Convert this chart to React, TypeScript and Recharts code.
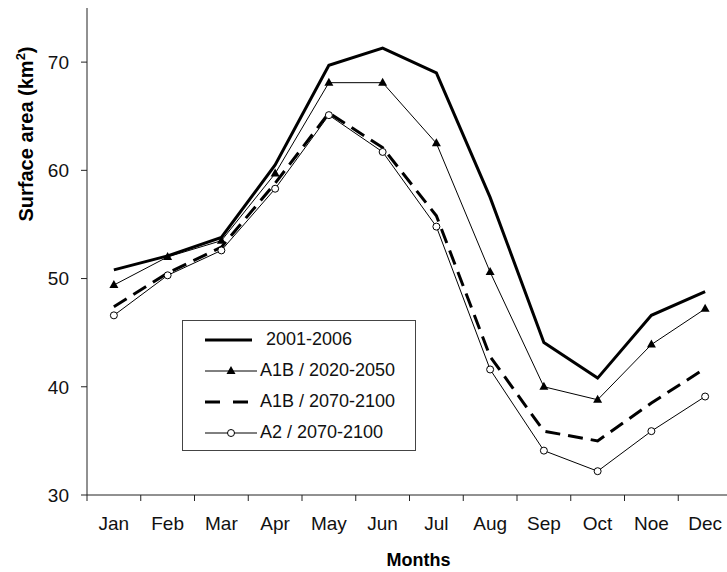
import { LineChart, Line, XAxis, YAxis, Legend } from 'recharts'

const months = ['Jan', 'Feb', 'Mar', 'Apr', 'May', 'Jun', 'Jul', 'Aug', 'Sep', 'Oct', 'Noe', 'Dec']
const obs2001 = [50.8, 52.1, 53.8, 60.5, 69.7, 71.3, 69.0, 57.5, 44.1, 40.8, 46.6, 48.8]
const a1b2020 = [49.4, 52.0, 53.5, 59.7, 68.1, 68.1, 62.5, 50.6, 40.0, 38.8, 43.9, 47.2]
const a1b2070 = [47.4, 50.5, 52.9, 58.8, 65.3, 62.1, 55.8, 42.8, 35.9, 35.0, 38.5, 41.7]
const a2_2070 = [46.6, 50.3, 52.6, 58.3, 65.1, 61.7, 54.8, 41.6, 34.1, 32.2, 35.9, 39.1]
const yTicks = [30, 40, 50, 60, 70]

const data = months.map((m, i) => ({
  m,
  obs: obs2001[i],
  a1b20: a1b2020[i],
  a1b70: a1b2070[i],
  a2: a2_2070[i],
}))

const FONT = '"Liberation Sans", Arial, sans-serif'
const W = 740
const H = 572
const MARGIN = { top: 8, right: 8, left: 0, bottom: 0 }
const Y_W = 87
const BAND = (W - MARGIN.left - MARGIN.right - Y_W) / months.length

const Triangle = ({ cx, cy, index }: any) => (
  <polygon key={index} points={`${cx},${cy - 5} ${cx - 4.5},${cy + 3} ${cx + 4.5},${cy + 3}`} fill="#000" />
)

const MonthTick = ({ x, y, payload }: any) => (
  <g>
    <line x1={x - BAND / 2} x2={x - BAND / 2} y1={y} y2={y + 6} stroke="#222" />
    <text x={x} y={y + 35} textAnchor="middle" fontSize={19} fill="#111" fontFamily={FONT}>
      {payload.value}
    </text>
  </g>
)

const YTitle = ({ viewBox }: any) => {
  const x = viewBox.x + 33
  const y = viewBox.y + 126
  return (
    <text x={x} y={y} transform={`rotate(-90, ${x}, ${y})`} textAnchor="middle" fontSize={20} fontWeight="bold" fill="#000" fontFamily={FONT}>
      Surface area (km<tspan dy={-8} fontSize={13}>2</tspan><tspan dy={8}>)</tspan>
    </text>
  )
}

const XTitle = ({ viewBox }: any) => (
  <text x={viewBox.x + viewBox.width / 2 + 9} y={viewBox.y + 71} textAnchor="middle" fontSize={18} fontWeight="bold" fill="#000" fontFamily={FONT}>
    Months
  </text>
)

const icons: Record<string, JSX.Element> = {
  obs: <line x1={0} x2={47} y1={10} y2={10} stroke="#000" strokeWidth={3} />,
  a1b20: (
    <g>
      <line x1={0} x2={52} y1={10} y2={10} stroke="#000" strokeWidth={1} />
      <polygon points="26,5 21.5,13 30.5,13" fill="#000" />
    </g>
  ),
  a1b70: <line x1={0} x2={47} y1={10} y2={10} stroke="#000" strokeWidth={3} strokeDasharray="15 13" />,
  a2: (
    <g>
      <line x1={0} x2={52} y1={10} y2={10} stroke="#000" strokeWidth={1} />
      <circle cx={26} cy={10} r={3.5} fill="#fff" stroke="#000" />
    </g>
  ),
}

const LegendBox = ({ payload }: any) => (
  <div style={{ border: '1px solid #444', background: '#fff', padding: '3px 0 3px 22px', boxSizing: 'border-box', width: 234, height: 131, fontFamily: FONT }}>
    {(payload || []).map((p: any) => (
      <div key={p.dataKey} style={{ display: 'flex', alignItems: 'center', height: 31 }}>
        <svg width={55} height={20}>{icons[p.dataKey]}</svg>
        <span style={{ fontSize: 18, color: '#111', marginLeft: p.dataKey === 'obs' ? 6 : 0 }}>{p.value}</span>
      </div>
    ))}
  </div>
)

export default function App() {
  return (
    <div style={{ position: 'absolute', left: 0, top: 0, width: 727, height: 572, overflow: 'hidden', background: '#fff' }}>
      <LineChart width={W} height={H} data={data} margin={MARGIN}>
        <XAxis
          dataKey="m"
          scale="band"
          height={77}
          axisLine={{ stroke: '#222' }}
          tickLine={false}
          tickSize={0}
          tickMargin={0}
          interval={0}
          tick={<MonthTick />}
          label={XTitle}
        />
        <YAxis
          width={Y_W}
          domain={[30, 75]}
          ticks={yTicks}
          allowDataOverflow
          axisLine={{ stroke: '#222' }}
          tickLine={{ stroke: '#222' }}
          tickSize={6}
          tickMargin={12}
          tick={{ fontSize: 19, fill: '#111', fontFamily: FONT }}
          label={YTitle}
        />
        <Legend
          layout="horizontal"
          align="center"
          verticalAlign="middle"
          content={<LegendBox />}
          wrapperStyle={{ left: 182, top: 320, width: 234, height: 131 }}
        />
        <Line name="2001-2006" dataKey="obs" stroke="#000" strokeWidth={3} dot={false} isAnimationActive={false} />
        <Line name="A1B / 2020-2050" dataKey="a1b20" stroke="#000" strokeWidth={1} dot={Triangle} isAnimationActive={false} />
        <Line name="A1B / 2070-2100" dataKey="a1b70" stroke="#000" strokeWidth={3} strokeDasharray="15 8" dot={false} isAnimationActive={false} />
        <Line name="A2 / 2070-2100" dataKey="a2" stroke="#000" strokeWidth={1} dot={{ r: 3.5, fill: '#fff', stroke: '#000', strokeWidth: 1 }} isAnimationActive={false} />
      </LineChart>
    </div>
  )
}
